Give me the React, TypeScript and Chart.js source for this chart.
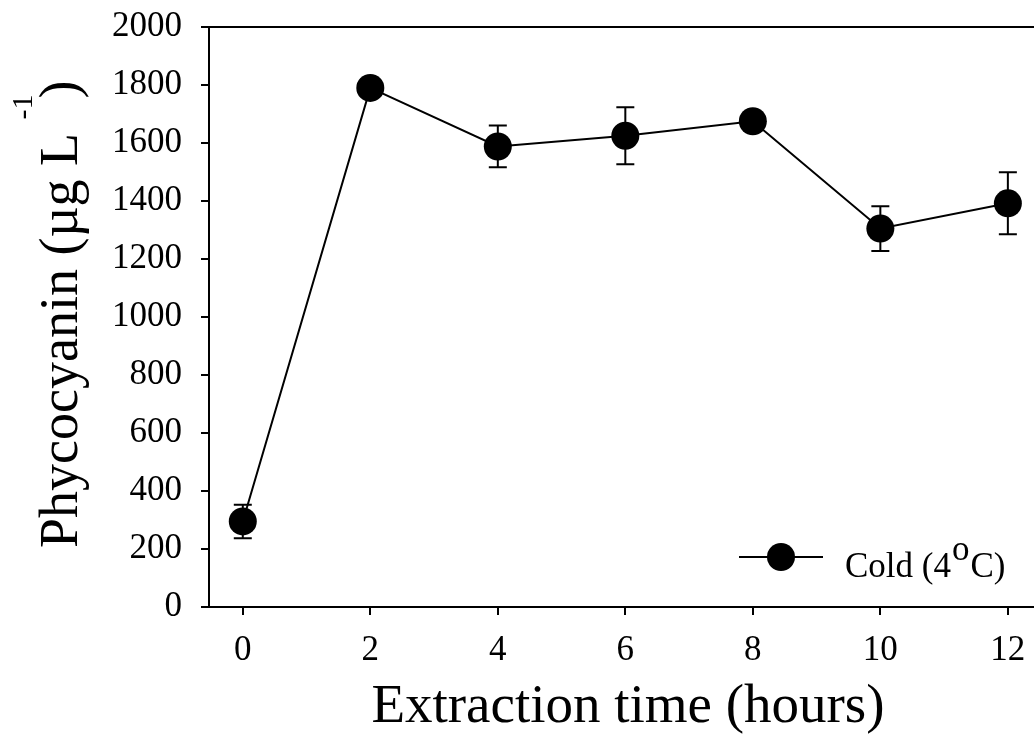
import React, { useEffect, useRef } from "react";
import { Chart, registerables } from "chart.js";

Chart.register(...registerables);

// ---- data ----
const hours = [0, 2, 4, 6, 8, 10, 12];
const phycocyanin = [295, 1790, 1588, 1625, 1675, 1305, 1392];
const errors = [58, 20, 72, 98, 20, 77, 107];
const xTicks = [0, 2, 4, 6, 8, 10, 12];
const yTicks = [0, 200, 400, 600, 800, 1000, 1200, 1400, 1600, 1800, 2000];
const xTitle = "Extraction time (hours)";
const yTitleParts = ["Phycocyanin (\u00B5g L ", "-1", ")"];
const legendParts = ["Cold (4", "o", "C)"];

const FONT = "'Liberation Serif', 'Times New Roman', serif";

const overlayPlugin = {
  id: "overlay",
  beforeDatasetsDraw(chart: any) {
    const ctx = chart.ctx;
    const xs = chart.scales.x;
    const ys = chart.scales.y;
    ctx.save();
    ctx.strokeStyle = "#000";
    ctx.lineWidth = 2;
    hours.forEach((h, i) => {
      const px = xs.getPixelForValue(h);
      const top = ys.getPixelForValue(phycocyanin[i] + errors[i]);
      const bot = ys.getPixelForValue(phycocyanin[i] - errors[i]);
      ctx.beginPath();
      ctx.moveTo(px, top);
      ctx.lineTo(px, bot);
      ctx.moveTo(px - 9, top);
      ctx.lineTo(px + 9, top);
      ctx.moveTo(px - 9, bot);
      ctx.lineTo(px + 9, bot);
      ctx.stroke();
    });
    ctx.restore();
  },
  afterDraw(chart: any) {
    const ctx = chart.ctx;
    const a = chart.chartArea;
    ctx.save();
    // top frame line
    ctx.strokeStyle = "#000";
    ctx.lineWidth = 2;
    ctx.beginPath();
    ctx.moveTo(a.left - 1, a.top);
    ctx.lineTo(a.right, a.top);
    ctx.stroke();

    ctx.fillStyle = "#000";
    ctx.textBaseline = "alphabetic";

    // x title
    ctx.font = `55px ${FONT}`;
    ctx.textAlign = "center";
    ctx.fillText(xTitle, 628, 722);

    // y title (rotated)
    ctx.save();
    ctx.translate(77, 548);
    ctx.rotate(-Math.PI / 2);
    ctx.textAlign = "left";
    ctx.font = `54px ${FONT}`;
    ctx.fillText(yTitleParts[0], 0, 0);
    let w = ctx.measureText(yTitleParts[0]).width;
    ctx.font = `30px ${FONT}`;
    ctx.fillText(yTitleParts[1], w, -45);
    w += ctx.measureText(yTitleParts[1]).width;
    ctx.font = `54px ${FONT}`;
    ctx.fillText(yTitleParts[2], w - 4, 0);
    ctx.restore();

    // legend
    const ly = 557;
    ctx.beginPath();
    ctx.moveTo(739, ly);
    ctx.lineTo(823, ly);
    ctx.stroke();
    ctx.beginPath();
    ctx.arc(781, ly, 14, 0, Math.PI * 2);
    ctx.fill();
    ctx.textAlign = "left";
    ctx.font = `35px ${FONT}`;
    let lx = 845;
    ctx.fillText(legendParts[0], lx, 577);
    lx += ctx.measureText(legendParts[0]).width + 1;
    ctx.fillText(legendParts[1], lx, 560);
    lx += ctx.measureText(legendParts[1]).width + 1;
    ctx.fillText(legendParts[2], lx, 577);
    ctx.restore();
  },
};

export default function App() {
  const canvasRef = useRef<HTMLCanvasElement | null>(null);

  useEffect(() => {
    document.body.style.margin = "0";
    document.body.style.overflow = "hidden";
    const canvas = canvasRef.current;
    if (!canvas) return;
    const chart = new Chart(canvas, {
      type: "line",
      data: {
        datasets: [
          {
            label: "Cold (4°C)",
            data: hours.map((h, i) => ({ x: h, y: phycocyanin[i] })),
            borderColor: "#000",
            borderWidth: 2,
            backgroundColor: "#000",
            pointRadius: 14,
            pointHoverRadius: 14,
            pointBackgroundColor: "#000",
            pointBorderWidth: 0,
            tension: 0,
            clip: false,
          },
        ],
      },
      options: {
        responsive: true,
        maintainAspectRatio: false,
        animation: false,
        layout: { autoPadding: false, padding: { top: 27, right: 0, left: 0, bottom: 0 } },
        plugins: {
          legend: { display: false },
          tooltip: { enabled: false },
          title: { display: false },
        },
        scales: {
          x: {
            type: "linear",
            min: -0.53,
            max: 12.41,
            afterBuildTicks: (s: any) => {
              s.ticks = xTicks.map((v) => ({ value: v }));
            },
            afterFit: (s: any) => {
              s.height = 147;
              s.paddingLeft = 0;
              s.paddingRight = 0;
            },
            ticks: {
              color: "#000",
              font: { family: FONT, size: 35 },
              padding: 15,
              maxRotation: 0,
              autoSkip: false,
              callback: (v: any) => String(v),
            },
            grid: {
              display: true,
              drawOnChartArea: false,
              drawTicks: true,
              tickLength: 8,
              color: "#000",
              lineWidth: 2,
            },
            border: { display: true, color: "#000", width: 2 },
          },
          y: {
            type: "linear",
            min: 0,
            max: 2000,
            afterBuildTicks: (s: any) => {
              s.ticks = yTicks.map((v) => ({ value: v }));
            },
            afterFit: (s: any) => {
              s.width = 209;
              s.paddingTop = 0;
              s.paddingBottom = 0;
            },
            ticks: {
              color: "#000",
              font: { family: FONT, size: 35 },
              padding: 19,
              autoSkip: false,
              callback: (v: any) => String(v),
            },
            grid: {
              display: true,
              drawOnChartArea: false,
              drawTicks: true,
              tickLength: 8,
              color: "#000",
              lineWidth: 2,
            },
            border: { display: true, color: "#000", width: 2 },
          },
        },
      },
      plugins: [overlayPlugin],
    });
    return () => chart.destroy();
  }, []);

  return (
    <div style={{ width: 1034, height: 754, position: "relative", background: "#fff" }}>
      <canvas ref={canvasRef} />
    </div>
  );
}
